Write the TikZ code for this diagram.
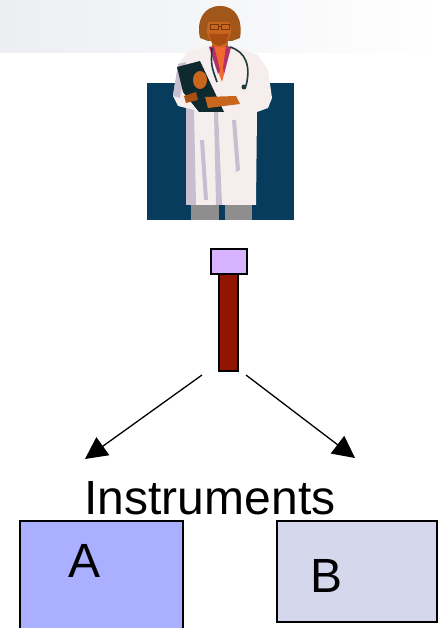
\documentclass[tikz,border=0pt]{standalone}
\usepackage{fontspec}
\setmainfont{Liberation Sans}
\usetikzlibrary{arrows.meta}
\definecolor{bandgray}{HTML}{ECEEF2}
\definecolor{navy}{HTML}{073C5D}
\definecolor{capviolet}{HTML}{D7B2FF}
\definecolor{stemred}{HTML}{921500}
\definecolor{boxblue}{HTML}{AAAFFF}
\definecolor{boxgray}{HTML}{D5D7EC}
\definecolor{coat}{HTML}{F6EEEC}
\definecolor{coatshade}{HTML}{C8BED0}
\definecolor{hair}{HTML}{A1561A}
\definecolor{skin}{HTML}{C9661D}
\definecolor{skindark}{HTML}{A94E12}
\definecolor{shirt}{HTML}{F06A30}
\definecolor{collar}{HTML}{B3306B}
\definecolor{board}{HTML}{0F2A2E}
\definecolor{scope}{HTML}{1F3A3F}
\definecolor{pants}{HTML}{8E8E8E}
\tikzset{
  outlined/.style={draw=black, line width=1.3pt, inner sep=0pt, outer sep=0pt},
  pointer/.style={draw=black, line width=1.3pt, -{Triangle[length=22pt,width=22pt]}},
  bigtext/.style={font=\fontsize{48}{48}\selectfont, inner sep=0pt, anchor=base},
}
\begin{document}
\begin{tikzpicture}[x=1pt,y=-1pt]
\useasboundingbox (0,0) rectangle (442,628);
\clip (0,0) rectangle (442,628);
% header band
\fill[left color=bandgray, right color=white] (0,0) rectangle (442,53);
% backdrop behind the figure
\fill[navy] (147,83) rectangle (294,220);
% --- doctor figure ---
% legs
\fill[pants] (191,203) rectangle (219,220);
\fill[pants] (225,203) rectangle (252,220);
% coat
\fill[coat] (208,46) -- (188,52) -- (178,64) -- (173,96) -- (178,106) -- (186,108)
  -- (186,205) -- (256,205) -- (257,112) -- (268,108) -- (272,98) -- (268,70)
  -- (258,55) -- (232,46) -- cycle;
% coat shading
\fill[coatshade] (186,108) -- (194,110) -- (196,205) -- (186,205) -- cycle;
\fill[coatshade] (178,64) -- (186,62) -- (180,98) -- (173,96) -- cycle;
\fill[coatshade] (214,112) -- (218,112) -- (222,205) -- (216,205) -- cycle;
\fill[coatshade] (232,120) -- (236,120) -- (240,170) -- (236,172) -- cycle;
\fill[coatshade] (200,140) -- (204,140) -- (208,200) -- (204,200) -- cycle;
% neck and shirt
\fill[skin] (212,40) rectangle (228,52);
\fill[shirt] (209,47) -- (231,47) -- (222,82) -- cycle;
\fill[collar] (209,47) -- (214,46) -- (220,70) -- (218,74) -- cycle;
\fill[collar] (231,47) -- (226,46) -- (223,68) -- (224,74) -- cycle;
% hair (bob) and face
\fill[hair] (200,38) .. controls (196,20) and (204,6) .. (220,6)
  .. controls (236,6) and (243,20) .. (240,38) -- (232,41) -- (208,41) -- cycle;
\fill[skin] (219,30) ellipse [x radius=12, y radius=15];
\fill[skindark] (209,34) -- (229,34) -- (226,43) -- (219,46) -- (212,43) -- cycle;
\fill[hair] (205,15) -- (234,15) -- (231,22) -- (208,22) -- cycle;
% glasses
\draw[skindark!70!black, line width=1pt] (210,25) rectangle (218,30) (221,25) rectangle (229,30) (218,27) -- (221,27);
% stethoscope
\draw[scope, line width=1.6pt] (212,48) .. controls (211,65) .. (217,82);
\draw[scope, line width=1.6pt] (230,47) .. controls (246,52) and (251,66) .. (246,86);
\fill[scope] (244,87) circle (2.5);
% clipboard
\fill[board] (177,67) -- (200,61) -- (224,112) -- (199,112) -- (183,92) -- cycle;
% hands
\fill[skin] (200,80) ellipse [x radius=7, y radius=9];
\fill[skin] (205,97) -- (236,96) -- (240,104) -- (208,108) -- cycle;
\fill[skindark] (184,96) -- (196,92) -- (198,100) -- (186,103) -- cycle;
% --- marker: cap and stem ---
\node[outlined, fill=stemred, minimum width=19pt, minimum height=97pt, anchor=north west] (stem) at (219,274) {};
\node[outlined, fill=capviolet, minimum width=36pt, minimum height=25pt, anchor=south west] (cap) at (211,274) {};
% arrows
\coordinate (leftstart) at (202,375);
\coordinate (leftend) at (85,459);
\coordinate (rightstart) at (246,375);
\coordinate (rightend) at (355,458);
\draw[pointer] (leftstart) -- (leftend);
\draw[pointer] (rightstart) -- (rightend);
% label
\node[bigtext] (label) at (210,514) {Instruments};
% boxes
\node[outlined, fill=boxblue, minimum width=163pt, minimum height=130pt, anchor=north west] (boxA) at (20,521) {};
\node[outlined, fill=boxgray, minimum width=160pt, minimum height=101pt, anchor=north west] (boxB) at (277,521) {};
\node[bigtext] (labA) at (85,577) {A};
\node[bigtext] (labB) at (327,592) {B};
\end{tikzpicture}
\end{document}
